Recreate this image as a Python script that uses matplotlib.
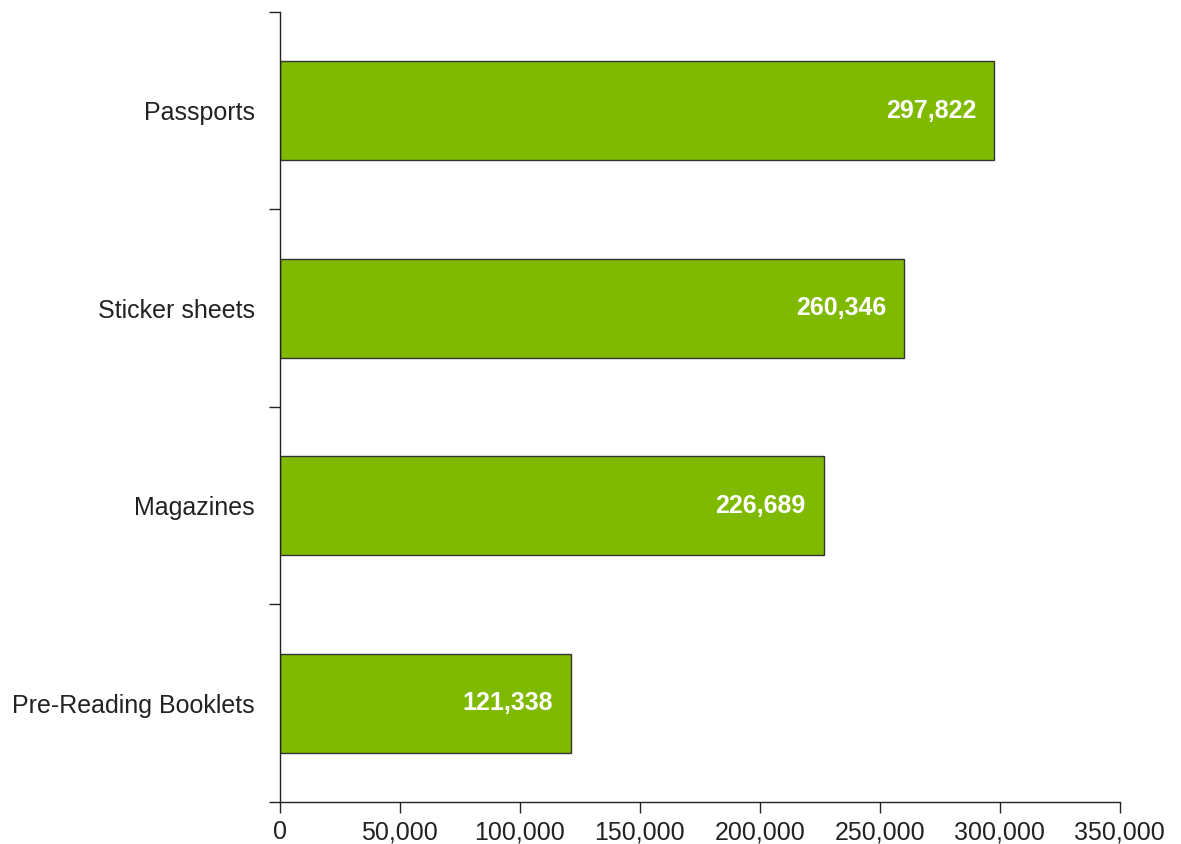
import matplotlib.pyplot as plt
from matplotlib.ticker import FuncFormatter, FixedLocator

# categories listed bottom to top
categories = ['Pre-Reading Booklets', 'Magazines', 'Sticker sheets', 'Passports']
counts = [121338, 226689, 260346, 297822]
xticks = [0, 50000, 100000, 150000, 200000, 250000, 300000, 350000]

plt.rcParams['font.family'] = ['Liberation Sans', 'DejaVu Sans']

fig = plt.figure(figsize=(11.81, 8.44), dpi=100)
ax = fig.add_axes([0.237, 0.0498, 0.711, 0.936])

pos = list(range(len(categories)))
bars = ax.barh(pos, counts, height=0.5, color='#7fba00', edgecolor='#333333', linewidth=1)

# value labels inside the bar ends
for b, v in zip(bars, counts):
    ax.annotate(f'{v:,}', xy=(b.get_width(), b.get_y() + b.get_height() / 2),
                xytext=(-13, 0), textcoords='offset points', ha='right', va='center',
                color='white', fontsize=18, fontweight='bold')

ax.set_xlim(0, 350000)
ax.set_ylim(-0.5, len(categories) - 0.5)
ax.set_xticks(xticks)
ax.xaxis.set_major_formatter(FuncFormatter(lambda x, p: f'{int(x):,}'))

# ticks sit between categories, names sit at the bar centres
ax.yaxis.set_major_locator(FixedLocator([p - 0.5 for p in pos] + [len(categories) - 0.5]))
ax.yaxis.set_major_formatter(FuncFormatter(lambda y, p: ''))
ax.yaxis.set_minor_locator(FixedLocator(pos))
ax.set_yticklabels(categories, minor=True)
ax.tick_params(axis='y', which='minor', length=0, pad=18, labelsize=18, labelcolor='#222222')
ax.tick_params(axis='y', which='major', length=8, width=1, color='#222222')
ax.tick_params(axis='x', length=8, width=1, color='#222222', labelsize=18, labelcolor='#222222', pad=5)

for s in ['top', 'right']:
    ax.spines[s].set_visible(False)
for s in ['left', 'bottom']:
    ax.spines[s].set_color('#222222')
    ax.spines[s].set_linewidth(1)

fig.savefig('out.png', dpi=100)
